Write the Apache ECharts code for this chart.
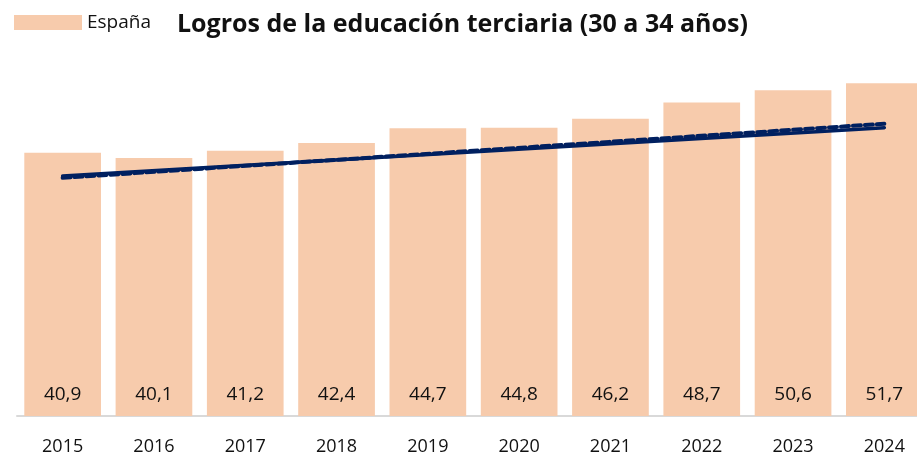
<!DOCTYPE html>
<html>
<head>
<meta charset="utf-8">
<script src="https://cdn.jsdelivr.net/npm/echarts@6/dist/echarts.min.js"></script>
<style>
  html, body { margin: 0; padding: 0; background: #fff; }
  #chart { width: 917px; height: 462px; }
</style>
</head>
<body>
<div id="chart"></div>
<script>
const years = ['2015', '2016', '2017', '2018', '2019', '2020', '2021', '2022', '2023', '2024']
const espana = [40.9, 40.1, 41.2, 42.4, 44.7, 44.8, 46.2, 48.7, 50.6, 51.7]
// trend lines, read at their end points only
const trendSolid = [37.3, null, null, null, null, null, null, null, null, 44.8]
const trendDashed = [37.0, null, null, null, null, null, null, null, null, 45.4]

const chart = echarts.init(document.getElementById('chart'))

const fontFamily = '"Open Sans", "Noto Sans", sans-serif'

chart.setOption({
  animation: false,
  backgroundColor: '#fff',
  title: {
    text: 'Logros de la educación terciaria (30 a 34 años)',
    left: 172,
    top: 7,
    textStyle: { fontFamily, fontSize: 25, fontWeight: 'bold', color: '#111' }
  },
  legend: {
    data: ['España'],
    left: 9,
    top: 8,
    itemWidth: 68,
    itemHeight: 15,
    icon: 'rect',
    textStyle: { fontFamily, fontSize: 19, color: '#111' }
  },
  grid: {
    left: 17,
    top: 62,
    right: -13,
    height: 354,
    outerBoundsMode: 'none',
    containLabel: false
  },
  xAxis: {
    type: 'category',
    data: years,
    axisTick: { show: false },
    axisLine: { lineStyle: { color: '#d9d9d9', width: 2 } },
    axisLabel: { fontFamily, fontSize: 18, color: '#111', margin: 22 }
  },
  yAxis: {
    type: 'value',
    min: 0,
    max: 55,
    show: false,
    splitLine: { show: false }
  },
  series: [
    {
      name: 'España',
      type: 'bar',
      data: espana,
      barWidth: '84%',
      itemStyle: { color: '#F7CBAC' },
      label: {
        show: true,
        position: 'insideBottom',
        distance: 12,
        fontFamily,
        fontSize: 19,
        color: '#111',
        formatter: p => p.value.toFixed(1).replace('.', ',')
      }
    },
    {
      name: 'Tendencia',
      type: 'line',
      data: trendDashed,
      connectNulls: true,
      symbol: 'none',
      lineStyle: { color: '#002060', width: 4, type: [8, 4], cap: 'round' },
      z: 3
    },
    {
      name: 'Media',
      type: 'line',
      data: trendSolid,
      connectNulls: true,
      symbol: 'none',
      lineStyle: { color: '#002060', width: 3.5, cap: 'round' },
      z: 4
    }
  ]
})
</script>
</body>
</html>
